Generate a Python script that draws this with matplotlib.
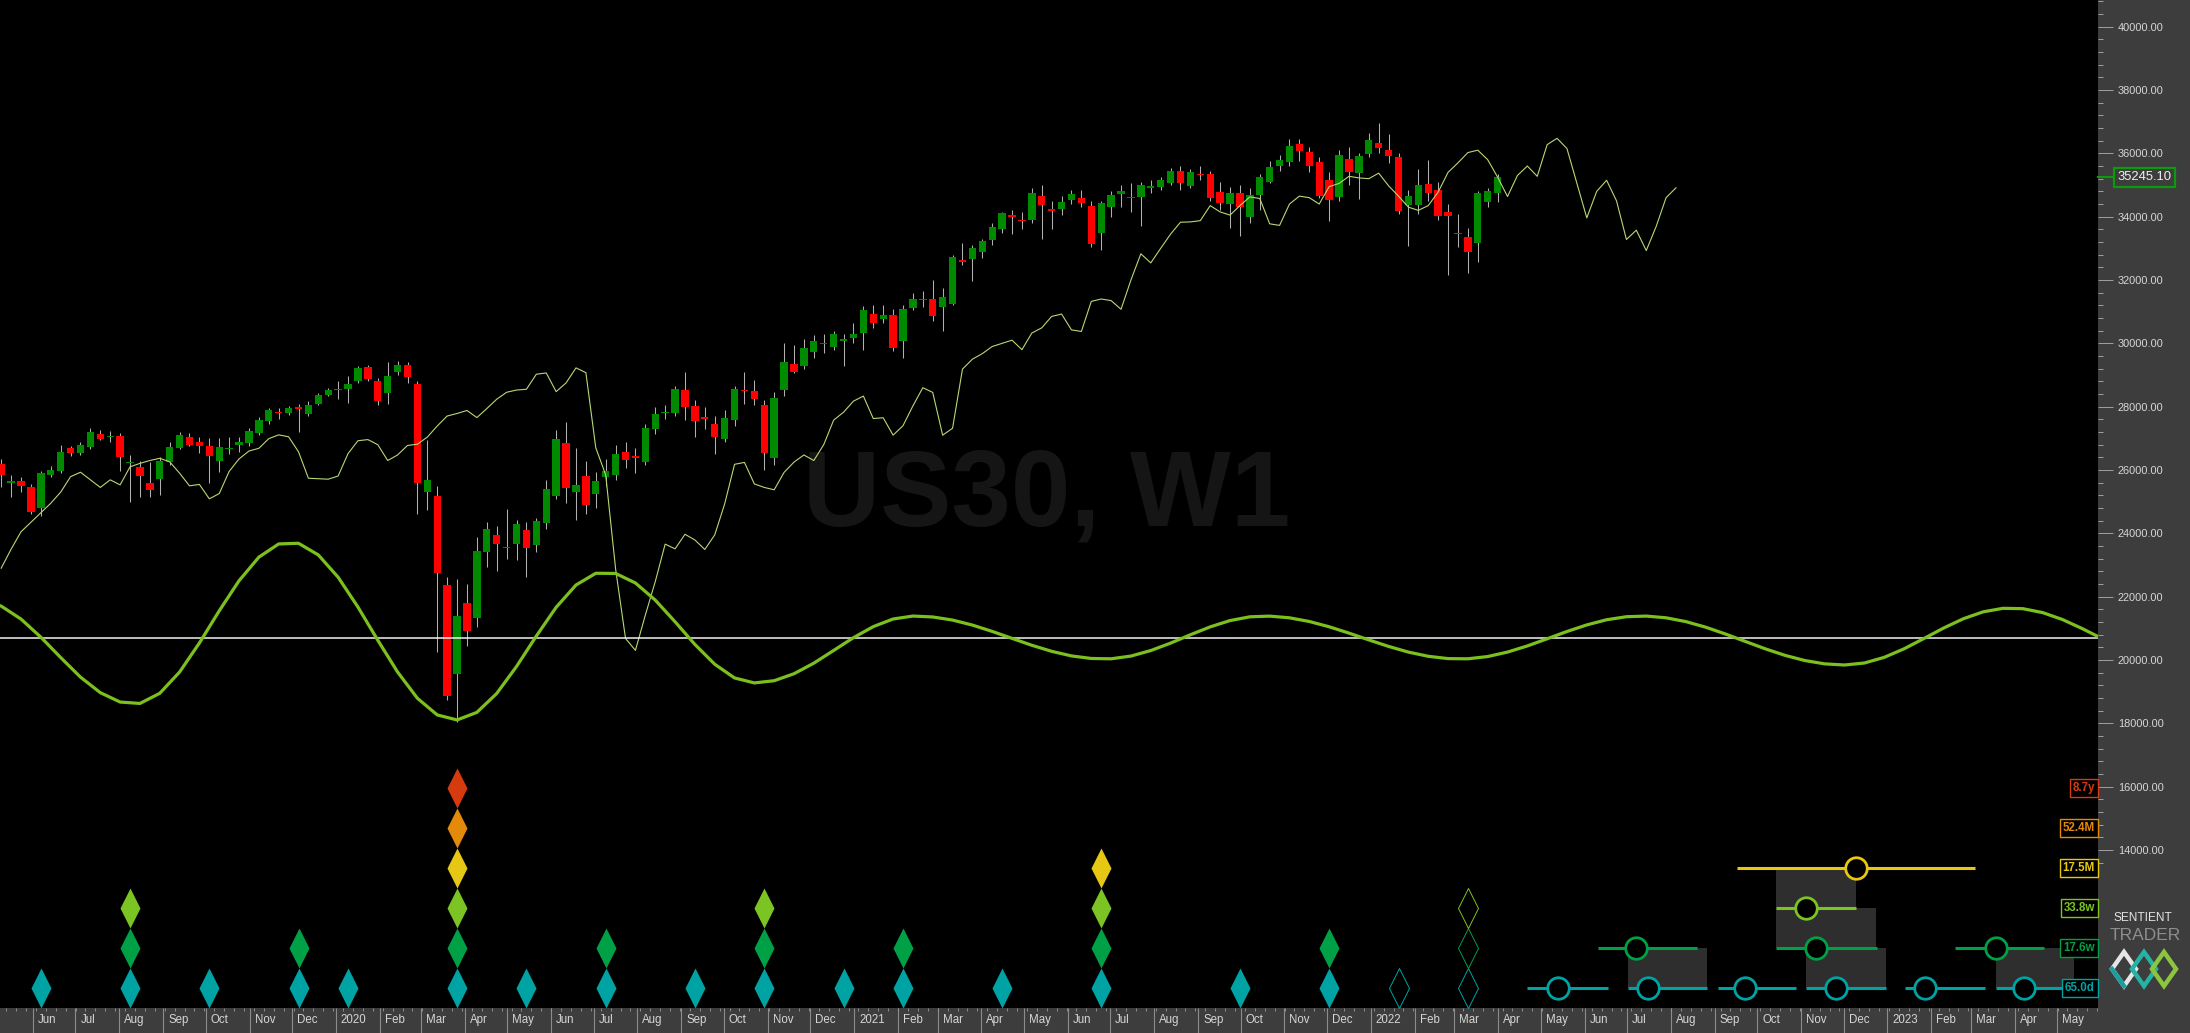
import numpy as np
import pandas as pd
import matplotlib
matplotlib.use('Agg')
import matplotlib.pyplot as plt
import matplotlib.dates as mdates
from matplotlib.path import Path
from matplotlib.patches import Rectangle, Polygon
from matplotlib.transforms import blended_transform_factory, ScaledTranslation
from matplotlib.ticker import FixedLocator, FormatStrFormatter

plt.rcParams['font.family'] = ['Liberation Sans', 'DejaVu Sans']

# ---------------- data ----------------
candle_start = '2019-05-05'   # weekly bars
opens = [26200, 25580, 25650, 25470, 24800, 25850, 25970, 26680, 26530, 26740,
         27130, 27030, 27070, 26220, 26100, 25600, 25720, 26260, 26710, 27050,
         26890, 26760, 26300, 26670, 26790, 26860, 27180, 27560, 27840, 27790,
         27970, 27780, 28080, 28370, 28540, 28560, 28820, 29240, 28820, 28420,
         29110, 29310, 28720, 25320, 25180, 22370, 19550, 21810, 21340, 23420,
         23950, 23540, 23660, 24110, 23630, 24320, 25190, 26860, 25320, 25810,
         25230, 25770, 25840, 26560, 26420, 26260, 27290, 27800, 27790, 28530,
         28020, 27650, 27450, 26980, 27580, 28520, 28500, 28050, 26370, 28527,
         29349, 29294, 29737, 30010, 29894, 30080, 30180, 30316, 30927, 30760,
         30895, 30084, 31126, 31380, 31390, 31157, 31243, 32620, 32655, 32875,
         33264, 33622, 34050, 33900, 33895, 34653, 34230, 34233, 34527, 34580,
         34347, 33475, 34316, 34707, 34620, 34612, 34930, 34947, 35074, 35443,
         34970, 35350, 35339, 34780, 34390, 34739, 33990, 34685, 35105, 35610,
         35717, 36295, 36043, 35727, 35159, 34632, 35822, 35390, 35970, 36337,
         36106, 35896, 34369, 34369, 35032, 34843, 34158, 33450, 33369, 33180,
         34474, 34739]
highs = [26350, 25850, 25790, 25560, 25960, 26130, 26800, 26750, 26900, 27330,
         27270, 27230, 27180, 26480, 26300, 26260, 26420, 26890, 27200, 27170,
         27050, 27000, 27000, 27050, 27050, 27330, 27680, 27960, 27970, 28030,
         28100, 28180, 28420, 28580, 28800, 28980, 29300, 29330, 28900, 29400,
         29450, 29400, 28800, 26950, 25500, 22620, 22560, 22400, 23900, 24370,
         24220, 24760, 24430, 24350, 24500, 25700, 27260, 27530, 26700, 26300,
         25950, 26350, 26800, 26900, 26700, 27450, 28000, 28050, 28650, 29100,
         28200, 28000, 27700, 27900, 28650, 29100, 28850, 28200, 28475, 30020,
         29950, 30150, 30250, 30300, 30400, 30300, 30650, 31190, 31200, 31200,
         31100, 31200, 31600, 31650, 32000, 31750, 32800, 33180, 33100, 33300,
         33800, 34150, 34220, 34150, 34900, 35000, 34500, 34650, 34850, 34850,
         34500, 34500, 34800, 35000, 35050, 35100, 35150, 35250, 35550, 35600,
         35500, 35600, 35450, 35100, 34950, 35000, 34900, 35350, 35750, 35950,
         36450, 36450, 36200, 35900, 35400, 36100, 36200, 36000, 36650, 36949,
         36600, 36000, 34850, 35500, 35800, 35100, 34400, 34100, 33650, 34800,
         34900, 35350]
lows = [25450, 25150, 25300, 24620, 24550, 25780, 25900, 26450, 26470, 26650,
        26950, 26870, 25970, 25000, 25150, 25160, 25200, 26150, 26650, 26750,
        26550, 25600, 25950, 26500, 26580, 26750, 27100, 27450, 27600, 27730,
        27210, 27700, 28050, 28330, 28250, 28120, 28750, 28800, 28050, 28100,
        29000, 28750, 24600, 24740, 20250, 18740, 18050, 20440, 21050, 22950,
        22800, 23180, 23150, 22630, 23400, 24150, 25100, 24950, 24420, 24600,
        24800, 25500, 25700, 26050, 25900, 26150, 27150, 27600, 27700, 27570,
        27050, 27300, 26500, 26900, 27400, 28100, 28050, 26000, 26160, 28350,
        29050, 29200, 29550, 29700, 29800, 29300, 30000, 29790, 30500, 30650,
        29750, 29550, 31050, 31150, 30700, 30400, 31200, 32475, 31980, 32700,
        33100, 33500, 33450, 33600, 33800, 33300, 33600, 34050, 34400, 34300,
        33050, 32950, 34000, 34300, 34150, 33700, 34750, 34850, 35000, 34850,
        34900, 35150, 34500, 34200, 33650, 33400, 33800, 34200, 35050, 35450,
        35600, 35750, 35400, 34600, 33877, 34500, 35000, 34550, 35900, 36000,
        35700, 34100, 33074, 34100, 34500, 33900, 32158, 33050, 32210, 32580,
        34300, 34474]
closes = [25840, 25640, 25500, 24680, 25910, 26000, 26570, 26550, 26780, 27210,
          26990, 27070, 26400, 26250, 25820, 25380, 26290, 26740, 27100, 26800,
          26770, 26450, 26740, 26700, 26870, 27240, 27580, 27900, 27790, 27950,
          27940, 28050, 28370, 28530, 28560, 28720, 29230, 28870, 28180, 28970,
          29320, 28930, 25580, 25690, 22740, 18870, 21390, 20930, 23450, 24130,
          23650, 23580, 24290, 23550, 24390, 25400, 26980, 25440, 25530, 24900,
          25640, 25980, 26500, 26320, 26400, 27340, 27770, 27830, 28550, 28000,
          27560, 27630, 27050, 27630, 28550, 28490, 28230, 26530, 28265, 29412,
          29104, 29843, 30084, 29970, 30295, 30150, 30295, 31053, 30650, 30895,
          29862, 31085, 31390, 31400, 30874, 31453, 32717, 32580, 33000, 33242,
          33665, 34128, 34000, 33850, 34739, 34369, 34200, 34474, 34707, 34422,
          33138, 34422, 34685, 34811, 34600, 35000, 34947, 35159, 35443, 35074,
          35410, 35330, 34580, 34422, 34739, 34296, 34676, 35263, 35560, 35790,
          36233, 36085, 35610, 34653, 34527, 35948, 35422, 35917, 36422, 36179,
          35927, 34190, 34653, 35000, 34758, 34032, 34032, 33500, 32895, 34739,
          34821, 35245.10]
last_price = 35245.10

# thin projected line (weekly, starts at first bar)
fld_start = '2019-05-05'
fld_values = [22900, 23500, 24050, 24350, 24650, 24950, 25300, 25790, 25930, 25690,
              25450, 25690, 25530, 26100, 26210, 26300, 26370, 26260,
              25900, 25500, 25545, 25090, 25255, 25955, 26350, 26600, 26685, 26990,
              27110, 27050, 26575, 25740, 25725, 25710, 25810, 26520, 26925, 26960,
              26800, 26300, 26475, 26775, 26815, 27040, 27390, 27705, 27785, 27880,
              27655, 27940, 28235, 28455, 28525, 28550, 29025, 29065, 28475, 28750,
              29225, 29075, 26700, 25845, 22875, 20680, 20305, 21420, 22475, 23660,
              23510, 23970, 23790, 23490, 23950, 24925, 26180, 26240, 25560, 25450,
              25375, 25925, 26250, 26475, 26300, 26800, 27575, 27825, 28175, 28335,
              27625, 27650, 27100, 27400, 28025, 28600, 28450, 27100, 27318, 29185,
              29500, 29675, 29900, 30000, 30100, 29800, 30325, 30490, 30850, 30925,
              30425, 30375, 31325, 31400, 31350, 31075, 32000, 32828, 32540, 33000,
              33450, 33825, 33835, 33875, 34350, 34150, 34050, 34350, 34625, 34575,
              33775, 33725, 34400, 34650, 34600, 34400, 34950, 35050, 35275, 35225,
              35200, 35375, 34975, 34650, 34300, 34200, 34350, 34775, 35400, 35700,
              36025, 36100, 35800, 35250, 34638, 35300, 35600, 35275, 36275, 36475,
              36150, 35050, 33962, 34800, 35150, 34500, 33279, 33575, 32930, 33690,
              34600, 34912]

# composite cycle oscillator (every 2 weeks)
osc_start = '2019-04-21'
osc_values = [21892, 21702, 21292, 20721, 20078, 19459, 18969, 18672, 18628, 18948,
              19619, 20537, 21552, 22503, 23248, 23665, 23686, 23318, 22613, 21671,
              20626, 19620, 18791, 18265, 18107, 18346, 18942, 19795, 20757, 21664,
              22368, 22739, 22733, 22432, 21892, 21207, 20492, 19866, 19433, 19276,
              19346, 19566, 19900, 20301, 20705, 21054, 21295, 21388, 21359, 21261,
              21103, 20903, 20683, 20465, 20274, 20129, 20048, 20038, 20124, 20298,
              20533, 20797, 21046, 21245, 21364, 21386, 21332, 21216, 21050, 20849,
              20635, 20429, 20250, 20117, 20044, 20038, 20109, 20250, 20444, 20670,
              20900, 21108, 21271, 21367, 21387, 21333, 21212, 21036, 20820, 20586,
              20354, 20147, 19983, 19878, 19842, 19904, 20082, 20351, 20675, 21008,
              21303, 21521, 21632, 21621, 21497, 21278, 20991, 20676]
zero_line = 20695

y_ticks = list(range(14000, 40001, 2000))

cycle_names = ['65.0d', '17.6w', '33.8w', '17.5M', '52.4M', '8.7y']
cycle_colors = ['#00a3a3', '#00a046', '#7cc423', '#e6c814', '#e38a0a', '#d63a0f']

trough_dates = ['2019-06-02', '2019-08-04', '2019-09-29', '2019-12-01', '2020-01-05',
                '2020-03-22', '2020-05-10', '2020-07-05', '2020-09-06', '2020-10-25',
                '2020-12-20', '2021-01-31', '2021-04-11', '2021-06-20', '2021-09-26',
                '2021-11-28', '2022-01-16', '2022-03-06']
trough_depth = [1, 3, 1, 2, 1, 6, 1, 2, 1, 3, 1, 2, 1, 4, 1, 2, 1, 3]
trough_open = [False] * 16 + [True, True]

# projected troughs: (level, window start, window end, expected trough)
proj_level = [0, 0, 0, 0, 0, 0, 1, 1, 1, 2, 3]
proj_start = ['2022-04-17', '2022-06-27', '2022-08-30', '2022-10-31', '2023-01-09', '2023-03-14',
              '2022-06-06', '2022-10-10', '2023-02-13', '2022-10-10', '2022-09-12']
proj_end = ['2022-06-13', '2022-08-22', '2022-10-24', '2022-12-26', '2023-03-06', '2023-06-05',
            '2022-08-15', '2022-12-20', '2023-04-17', '2022-12-05', '2023-02-27']
proj_mid = ['2022-05-09', '2022-07-11', '2022-09-18', '2022-11-21', '2023-01-23', '2023-04-03',
            '2022-07-03', '2022-11-07', '2023-03-14', '2022-10-31', '2022-12-05']
# shaded zones: (start, end, lower level, upper level)
zone_start = ['2022-10-10', '2022-10-10', '2022-10-31', '2022-06-27', '2023-03-14']
zone_end = ['2022-12-05', '2022-12-19', '2022-12-26', '2022-08-22', '2023-05-08']
zone_lo = [1, 1, 0, 0, 0]
zone_hi = [3, 2, 1, 1, 1]

# ---------------- figure ----------------
W, H = 2190, 1033
fig = plt.figure(figsize=(W / 100, H / 100), dpi=100, facecolor='#3d3d3d')
ax_l, ax_b, ax_w, ax_h = 0, (H - 1008) / H, 2098 / W, 1008 / H
ax = fig.add_axes([ax_l, ax_b, ax_w, ax_h], facecolor='black')

t0 = mdates.date2num(pd.Timestamp(candle_start))
ax.set_xlim(t0 - 0.85, t0 + 1481.1)
ax.set_ylim(9010, 40843)

# rows for cycle markers (layout)
row_y = [9642 + 1263 * k for k in range(6)]

# watermark
ax.text(0.499, 0.506, 'US30, W1', transform=ax.transAxes, fontsize=77, fontweight='bold',
        color='#151515', ha='center', va='center', zorder=0.5)

# candles
cd = mdates.date2num(pd.date_range(candle_start, periods=len(closes), freq='7D'))
o = np.array(opens, float); hi = np.array(highs, float)
lo = np.array(lows, float); c = np.array(closes, float)
up = c >= o
ax.vlines(cd, lo, hi, color='#b0b0b0', lw=0.75, zorder=2)
hgt = np.maximum(np.abs(c - o), 40)
bot = (o + c) / 2 - hgt / 2
ax.bar(cd, hgt, bottom=bot, width=5.2, color=np.where(up, '#008a00', '#ff0000'),
       linewidth=0, zorder=3)

# projected thin line
fd = mdates.date2num(pd.date_range(fld_start, periods=len(fld_values), freq='7D'))
ax.plot(fd, fld_values, color='#b8d874', lw=0.8, zorder=4)

# zero line and oscillator
ax.axhline(zero_line, color='#f2f2f2', lw=1.1, zorder=4)
od = mdates.date2num(pd.date_range(osc_start, periods=len(osc_values), freq='14D'))
ax.plot(od, osc_values, color='#7cc01e', lw=2.3, zorder=4.5, solid_capstyle='round')

# trough diamonds
diamond = Path([(0, 1), (0.5, 0), (0, -1), (-0.5, 0), (0, 1)],
               [Path.MOVETO, Path.LINETO, Path.LINETO, Path.LINETO, Path.CLOSEPOLY])
for d, depth, hollow in zip(trough_dates, trough_depth, trough_open):
    x = mdates.date2num(pd.Timestamp(d))
    for k in range(depth):
        if hollow:
            ax.plot([x], [row_y[k]], marker=diamond, ms=28.8, mfc='none',
                    mec=cycle_colors[k], mew=0.7, ls='none', zorder=6)
        else:
            ax.plot([x], [row_y[k]], marker=diamond, ms=28.8, mfc=cycle_colors[k],
                    mec='none', mew=0, ls='none', zorder=6)

# shaded projection zones
for s, e, a, b in zip(zone_start, zone_end, zone_lo, zone_hi):
    xs = mdates.date2num(pd.Timestamp(s)); xe = mdates.date2num(pd.Timestamp(e))
    ax.add_patch(Rectangle((xs, row_y[a]), xe - xs, row_y[b] - row_y[a],
                           facecolor='#2e2e2e', edgecolor='none', zorder=5))

# projection lines and circles
for k, s, e, m in zip(proj_level, proj_start, proj_end, proj_mid):
    xs = mdates.date2num(pd.Timestamp(s)); xe = mdates.date2num(pd.Timestamp(e))
    xm = mdates.date2num(pd.Timestamp(m))
    ax.plot([xs, xe], [row_y[k], row_y[k]], color=cycle_colors[k], lw=2.2, zorder=6,
            solid_capstyle='butt')
    ax.plot([xm], [row_y[k]], marker='o', ms=15.5, mfc='black', mec=cycle_colors[k],
            mew=2.0, ls='none', zorder=7)

# cycle labels on the right edge
bt = blended_transform_factory(ax.transAxes, ax.transData)
for k, (name, col) in enumerate(zip(cycle_names, cycle_colors)):
    ax.text(0.9985, row_y[k], name, transform=bt, ha='right', va='center', color=col,
            fontsize=8.3, fontweight='bold', family=['Liberation Sans Narrow', 'Liberation Sans'],
            bbox=dict(boxstyle='square,pad=0.25', fc='black', ec=col, lw=1.0), zorder=10)

# price label
ax.plot([1.0, 1.0067], [last_price, last_price], transform=bt, color='#0a9a0a', lw=1.5,
        clip_on=False, zorder=10)
ax.text(1.0223, last_price, f'{last_price:.2f}', transform=bt, ha='center', va='center',
        color='#f0f0f0', fontsize=9.4, clip_on=False, zorder=11,
        bbox=dict(boxstyle='square,pad=0.28', fc='#3d3d3d', ec='#0a9a0a', lw=1.6))

# y axis on the right
for sp in ax.spines.values():
    sp.set_visible(False)
ax.yaxis.set_ticks_position('right')
ax.set_yticks(y_ticks)
ax.yaxis.set_major_formatter(FormatStrFormatter('%.2f'))
ax.yaxis.set_minor_locator(FixedLocator(list(range(13600, 40801, 400))))
ax.tick_params(axis='y', which='major', direction='out', length=10.8, width=0.7,
               color='#a0a0a0', pad=3.6, labelsize=7.9, labelcolor='#d6d6d6',
               right=True, left=False, labelright=True, labelleft=False)
ax.tick_params(axis='y', which='minor', direction='out', length=3.6, width=0.7,
               color='#a0a0a0', right=True, left=False)

# x axis: months
months = pd.date_range('2019-06-01', '2023-05-01', freq='MS')
sep = mdates.date2num(months) - 4.6
labels = [str(m.year) if m.month == 1 else m.strftime('%b') for m in months]
ax.set_xticks(sep)
ax.set_xticklabels(labels)
ax.xaxis.set_minor_locator(FixedLocator(
    mdates.date2num(pd.date_range('2019-04-28', '2023-06-11', freq='7D')) - 3.5))
ax.tick_params(axis='x', which='major', direction='out', length=18, width=0.8,
               color='#8c8c8c', pad=-13.5, labelsize=8.3, labelcolor='#d6d6d6')
ax.tick_params(axis='x', which='minor', direction='out', length=2.2, width=0.6,
               color='#9a9a9a')
off = ScaledTranslation(0.05, 0, fig.dpi_scale_trans)
for lab in ax.get_xticklabels():
    lab.set_horizontalalignment('left')
    lab.set_transform(lab.get_transform() + off)
    lab.set_family(['Liberation Sans Narrow', 'Liberation Sans'])

# logo (pixel overlay)
ov = fig.add_axes([0, 0, 1, 1], facecolor='none')
ov.set_xlim(0, W); ov.set_ylim(H, 0); ov.axis('off')
ov.text(2143, 918, 'SENTIENT', color='#e4e4e4', fontsize=8.6, ha='center', va='center')
ov.text(2145, 935, 'TRADER', color='#8e8e8e', fontsize=12.5, ha='center', va='center')
def rhomb(cx, cy, hw, hh, col):
    ov.add_patch(Polygon([(cx - hw, cy), (cx, cy - hh), (cx + hw, cy), (cx, cy + hh)],
                         closed=True, fill=False, ec=col, lw=3.2, joinstyle='miter'))
rhomb(2124, 969, 12, 17, '#e6e6e6')
rhomb(2144, 969, 12, 17, '#25b3a6')
rhomb(2164, 969, 12, 17, '#8cc63f')
ov.plot([2112, 2124], [969, 986], color='#1a9e9e', lw=3.2)

fig.savefig('out.png', dpi=100, facecolor=fig.get_facecolor())
